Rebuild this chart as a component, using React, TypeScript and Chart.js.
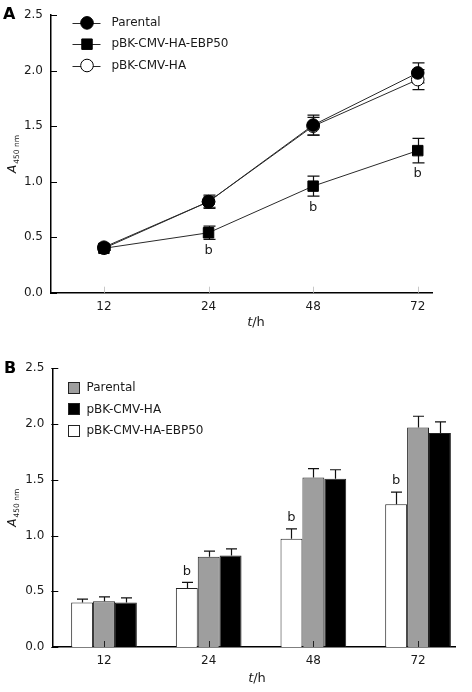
import React, { useEffect, useRef } from "react";
import { Chart, registerables } from "chart.js";
Chart.register(...registerables);

const FONT = "'DejaVu Sans', Verdana, sans-serif";
const INK = "#1a1a1a";

const hours = ["12", "24", "48", "72"];
const xPositions = [0, 1, 2, 3];
const yTickValues = [0, 0.5, 1, 1.5, 2, 2.5];

// Panel A (line chart)
const lineParental = [0.41, 0.82, 1.51, 1.98];
const lineParentalErr = [0.02, 0.06, 0.09, 0.09];
const lineEBP50 = [0.4, 0.54, 0.96, 1.28];
const lineEBP50Err = [0.02, 0.06, 0.09, 0.11];
const lineHA = [0.4, 0.82, 1.5, 1.92];
const lineHAErr = [0.02, 0.05, 0.08, 0.09];
const lineSignif = [false, true, true, true];

// Panel B (bar chart)
const barEBP50 = [0.4, 0.53, 0.97, 1.28];
const barEBP50Err = [0.03, 0.05, 0.09, 0.11];
const barParental = [0.41, 0.81, 1.52, 1.97];
const barParentalErr = [0.04, 0.05, 0.08, 0.1];
const barHA = [0.4, 0.82, 1.51, 1.92];
const barHAErr = [0.04, 0.06, 0.08, 0.1];
const barSignif = [false, true, true, true];

const legendA = ["Parental", "pBK-CMV-HA-EBP50", "pBK-CMV-HA"];
const legendB = ["Parental", "pBK-CMV-HA", "pBK-CMV-HA-EBP50"];

function makeScales(xMin: number, xMax: number, yWidth: number, xHeight: number) {
  return {
    x: {
      type: "linear",
      min: xMin,
      max: xMax,
      offset: false,
      afterBuildTicks: (s: any) => {
        s.ticks = xPositions.map((v) => ({ value: v }));
      },
      afterFit: (s: any) => {
        s.height = xHeight;
      },
      ticks: {
        callback: (v: any) => hours[Number(v)] ?? "",
        font: { family: FONT, size: 12 },
        color: INK,
        padding: 7,
        autoSkip: false,
        maxRotation: 0,
      },
      grid: { display: false, drawTicks: false },
      border: { display: true, color: "#000", width: 1.5 },
    },
    y: {
      type: "linear",
      min: 0,
      max: 2.5,
      afterBuildTicks: (s: any) => {
        s.ticks = yTickValues.map((v) => ({ value: v }));
      },
      afterFit: (s: any) => {
        s.width = yWidth;
      },
      ticks: {
        callback: (v: any) => Number(v).toFixed(1),
        font: { family: FONT, size: 12 },
        color: INK,
        padding: 8,
      },
      grid: { display: false, drawTicks: false },
      border: { display: true, color: "#000", width: 1.5 },
    },
  };
}

function drawInwardTicks(chart: any, xColor: string) {
  const { ctx, chartArea, scales } = chart;
  ctx.save();
  ctx.lineWidth = 1;
  ctx.strokeStyle = "#000";
  for (const v of yTickValues) {
    const y = Math.round(scales.y.getPixelForValue(v)) + 0.5;
    ctx.beginPath();
    ctx.moveTo(chartArea.left - 1, y);
    ctx.lineTo(chartArea.left + 6, y);
    ctx.stroke();
  }
  ctx.strokeStyle = xColor;
  for (const v of xPositions) {
    const x = Math.round(scales.x.getPixelForValue(v)) + 0.5;
    ctx.beginPath();
    ctx.moveTo(x, chartArea.bottom);
    ctx.lineTo(x, chartArea.bottom - 6);
    ctx.stroke();
  }
  ctx.restore();
}

function drawYTitle(ctx: CanvasRenderingContext2D, x: number, yMid: number) {
  ctx.save();
  ctx.translate(x, yMid);
  ctx.rotate(-Math.PI / 2);
  ctx.fillStyle = INK;
  ctx.textBaseline = "alphabetic";
  ctx.textAlign = "left";
  ctx.font = `italic 12px ${FONT}`;
  const wA = ctx.measureText("A").width;
  ctx.font = `7.5px ${FONT}`;
  const wS = ctx.measureText("450 nm").width;
  const sx = -(wA + 1 + wS) / 2;
  ctx.font = `italic 12px ${FONT}`;
  ctx.fillText("A", sx, 4);
  ctx.font = `7.5px ${FONT}`;
  ctx.fillText("450 nm", sx + wA + 1, 6.5);
  ctx.restore();
}

function drawXTitle(ctx: CanvasRenderingContext2D, cx: number, cy: number) {
  ctx.save();
  ctx.fillStyle = INK;
  ctx.textBaseline = "middle";
  ctx.textAlign = "left";
  ctx.font = `italic 13px ${FONT}`;
  const wt = ctx.measureText("t").width;
  ctx.font = `13px ${FONT}`;
  const wr = ctx.measureText("/h").width;
  const sx = cx - (wt + wr) / 2;
  ctx.font = `italic 13px ${FONT}`;
  ctx.fillText("t", sx, cy);
  ctx.font = `13px ${FONT}`;
  ctx.fillText("/h", sx + wt, cy);
  ctx.restore();
}

function drawPanelLetter(ctx: CanvasRenderingContext2D, letter: string, x: number, y: number) {
  ctx.save();
  ctx.fillStyle = "#000";
  ctx.font = `bold 16px ${FONT}`;
  ctx.textBaseline = "middle";
  ctx.textAlign = "left";
  ctx.fillText(letter, x, y);
  ctx.restore();
}

function drawMarker(ctx: CanvasRenderingContext2D, style: string, x: number, y: number, r: number, fill: string) {
  ctx.save();
  ctx.fillStyle = fill;
  ctx.strokeStyle = "#000";
  ctx.lineWidth = 1;
  ctx.beginPath();
  if (style === "rect") {
    const s = Math.SQRT1_2 * r;
    ctx.rect(x - s, y - s, 2 * s, 2 * s);
  } else {
    ctx.arc(x, y, r, 0, Math.PI * 2);
  }
  ctx.fill();
  ctx.stroke();
  ctx.restore();
}

function makeErrorPlugin(mode: "both" | "up", capHalf: number, hook: string) {
  return {
    id: "errorBars" + mode,
    [hook]: (chart: any) => {
      const { ctx, scales } = chart;
      ctx.save();
      ctx.strokeStyle = "#111";
      ctx.lineWidth = 1.2;
      chart.data.datasets.forEach((ds: any, di: number) => {
        const meta = chart.getDatasetMeta(di);
        const errs: number[] = ds.errorBars || [];
        meta.data.forEach((el: any, i: number) => {
          const raw = ds.data[i];
          const v = typeof raw === "number" ? raw : raw.y;
          const e = errs[i] || 0;
          const x = Math.round(el.x) + 0.5;
          const yTop = scales.y.getPixelForValue(v + e);
          const yBot = scales.y.getPixelForValue(mode === "both" ? v - e : v);
          ctx.beginPath();
          ctx.moveTo(x, yTop);
          ctx.lineTo(x, yBot);
          ctx.moveTo(x - capHalf, yTop);
          ctx.lineTo(x + capHalf, yTop);
          if (mode === "both") {
            ctx.moveTo(x - capHalf, yBot);
            ctx.lineTo(x + capHalf, yBot);
          }
          ctx.stroke();
        });
      });
      ctx.restore();
    },
  };
}

function configA(): any {
  const ds = [
    {
      label: legendA[0],
      data: lineParental,
      errorBars: lineParentalErr,
      borderColor: "#2a2a2a",
      borderWidth: 1,
      pointStyle: "circle",
      pointRadius: 6.3,
      pointBackgroundColor: "#000",
      pointBorderColor: "#000",
      pointBorderWidth: 1,
    },
    {
      label: legendA[1],
      data: lineEBP50,
      errorBars: lineEBP50Err,
      borderColor: "#2a2a2a",
      borderWidth: 1,
      pointStyle: "rect",
      pointRadius: 7.4,
      pointBackgroundColor: "#000",
      pointBorderColor: "#000",
      pointBorderWidth: 1,
    },
    {
      label: legendA[2],
      data: lineHA,
      errorBars: lineHAErr,
      borderColor: "#2a2a2a",
      borderWidth: 1,
      pointStyle: "circle",
      pointRadius: 6.3,
      pointBackgroundColor: "#fff",
      pointBorderColor: "#000",
      pointBorderWidth: 1,
    },
  ].map((d) => ({ ...d, data: d.data.map((y, i) => ({ x: xPositions[i], y })) , tension: 0, fill: false }));

  const deco = {
    id: "decoA",
    afterDraw(chart: any) {
      const { ctx, chartArea, scales } = chart;
      drawInwardTicks(chart, "#c8c8c8");
      // legend
      const markers = [
        { style: "circle", r: 6.3, fill: "#000" },
        { style: "rect", r: 7.4, fill: "#000" },
        { style: "circle", r: 6.3, fill: "#fff" },
      ];
      legendA.forEach((label, i) => {
        const y = chartArea.top + 7.7 + i * 21.3;
        ctx.save();
        ctx.strokeStyle = "#2a2a2a";
        ctx.lineWidth = 1;
        ctx.beginPath();
        ctx.moveTo(72.5, Math.round(y) + 0.5);
        ctx.lineTo(100.5, Math.round(y) + 0.5);
        ctx.stroke();
        ctx.restore();
        drawMarker(ctx, markers[i].style, 87, y, markers[i].r, markers[i].fill);
        ctx.save();
        ctx.fillStyle = INK;
        ctx.font = `12px ${FONT}`;
        ctx.textBaseline = "middle";
        ctx.textAlign = "left";
        ctx.fillText(label, 111.5, y);
        ctx.restore();
      });
      // significance marks under EBP50
      const meta = chart.getDatasetMeta(1);
      ctx.save();
      ctx.fillStyle = INK;
      ctx.font = `13px ${FONT}`;
      ctx.textBaseline = "middle";
      ctx.textAlign = "center";
      lineSignif.forEach((s, i) => {
        if (!s) return;
        const y = scales.y.getPixelForValue(lineEBP50[i] - lineEBP50Err[i]) + 11;
        ctx.fillText("b", meta.data[i].x, y);
      });
      ctx.restore();
      drawPanelLetter(ctx, "A", 3, 15);
      drawYTitle(ctx, 12, (chartArea.top + chartArea.bottom) / 2);
      drawXTitle(ctx, 256, 323);
    },
  };

  return {
    type: "line",
    data: { datasets: ds },
    options: {
      animation: false,
      responsive: false,
      devicePixelRatio: 1,
      layout: { padding: { top: 14, left: 0, right: 39.3, bottom: 0 } },
      plugins: { legend: { display: false }, tooltip: { enabled: false } },
      scales: makeScales(-0.506, 3.143, 51, 47.3),
    },
    plugins: [makeErrorPlugin("both", 6, "beforeDatasetsDraw"), deco],
  };
}

function configB(): any {
  const mk = (label: string, vals: number[], errs: number[], color: string) => ({
    label,
    data: vals.map((y, i) => ({ x: xPositions[i], y })),
    errorBars: errs,
    backgroundColor: color,
    borderColor: "#222",
    borderWidth: 1,
    categoryPercentage: 0.6275,
    barPercentage: 1,
  });
  const ds = [
    mk("pBK-CMV-HA-EBP50", barEBP50, barEBP50Err, "#ffffff"),
    mk("Parental", barParental, barParentalErr, "#9e9e9e"),
    mk("pBK-CMV-HA", barHA, barHAErr, "#000000"),
  ];
  const legendFill: Record<string, string> = {
    Parental: "#9e9e9e",
    "pBK-CMV-HA": "#000000",
    "pBK-CMV-HA-EBP50": "#ffffff",
  };

  const deco = {
    id: "decoB",
    afterDraw(chart: any) {
      const { ctx, chartArea, scales } = chart;
      drawInwardTicks(chart, "#222");
      legendB.forEach((label, i) => {
        const y = chartArea.top + 19.4 + i * 21.7;
        ctx.save();
        ctx.fillStyle = legendFill[label];
        ctx.strokeStyle = "#222";
        ctx.lineWidth = 1;
        ctx.fillRect(68.5, Math.round(y) - 5.5, 11, 11);
        ctx.strokeRect(68.5, Math.round(y) - 5.5, 11, 11);
        ctx.fillStyle = INK;
        ctx.font = `12px ${FONT}`;
        ctx.textBaseline = "middle";
        ctx.textAlign = "left";
        ctx.fillText(label, 86.5, y);
        ctx.restore();
      });
      const meta = chart.getDatasetMeta(0);
      ctx.save();
      ctx.fillStyle = INK;
      ctx.font = `13px ${FONT}`;
      ctx.textBaseline = "middle";
      ctx.textAlign = "center";
      barSignif.forEach((s, i) => {
        if (!s) return;
        const y = scales.y.getPixelForValue(barEBP50[i] + barEBP50Err[i]) - 11;
        ctx.fillText("b", meta.data[i].x, y);
      });
      ctx.restore();
      drawPanelLetter(ctx, "B", 4, 29);
      drawYTitle(ctx, 12, (chartArea.top + chartArea.bottom) / 2);
      drawXTitle(ctx, 257, 339);
    },
  };

  return {
    type: "bar",
    data: { datasets: ds },
    options: {
      animation: false,
      responsive: false,
      devicePixelRatio: 1,
      layout: { padding: { top: 28.3, left: 0, right: 17, bottom: 0 } },
      plugins: { legend: { display: false }, tooltip: { enabled: false } },
      scales: makeScales(-0.494, 3.353, 52.3, 45),
    },
    plugins: [makeErrorPlugin("up", 5.5, "afterDatasetsDraw"), deco],
  };
}

export default function App() {
  const refA = useRef<HTMLCanvasElement>(null);
  const refB = useRef<HTMLCanvasElement>(null);
  useEffect(() => {
    const a = new Chart(refA.current!, configA());
    const b = new Chart(refB.current!, configB());
    return () => {
      a.destroy();
      b.destroy();
    };
  }, []);
  return (
    <div style={{ position: "fixed", left: 0, top: 0, width: 472, height: 692, background: "#fff" }}>
      <canvas ref={refA} width={472} height={340} style={{ display: "block", width: 472, height: 340 }} />
      <canvas ref={refB} width={472} height={352} style={{ display: "block", width: 472, height: 352 }} />
    </div>
  );
}
